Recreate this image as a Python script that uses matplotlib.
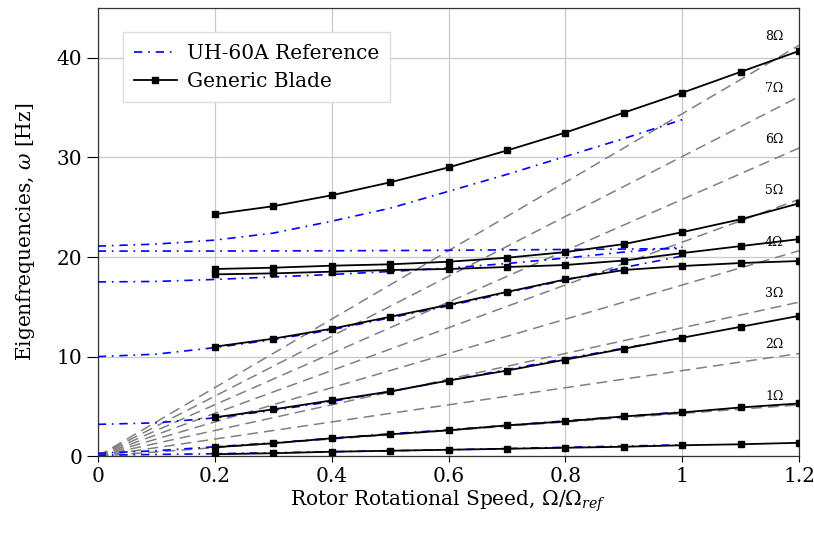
import numpy as np
import matplotlib
matplotlib.use("Agg")
import matplotlib.pyplot as plt

plt.rcParams['font.family'] = ['DejaVu Serif']
plt.rcParams['mathtext.fontset'] = 'dejavuserif'

# reference rotor speed in Hz (n-per-rev lines)
omega_ref = 4.3
n_rev = [1, 2, 3, 4, 5, 6, 7, 8]

# UH-60A reference (blue dash-dot)
x_ref = [0.0, 0.1, 0.2, 0.3, 0.4, 0.5, 0.6, 0.7, 0.8, 0.9, 1.0]
ref_lag1 = [0.1, 0.18, 0.25, 0.35, 0.45, 0.55, 0.65, 0.77, 0.9, 1.02, 1.15]
ref_flap1 = [0.3, 0.55, 0.95, 1.35, 1.8, 2.25, 2.65, 3.1, 3.55, 4.0, 4.45]
ref_flap2 = [3.2, 3.35, 3.85, 4.6, 5.5, 6.5, 7.6, 8.7, 9.8, 10.85, 11.9]
ref_flap3 = [10.0, 10.25, 10.9, 11.7, 12.7, 13.9, 15.1, 16.4, 17.7, 18.95, 20.1]
ref_lag2 = [17.5, 17.55, 17.75, 18.0, 18.25, 18.55, 18.9, 19.35, 19.9, 20.5, 21.0]
ref_tors = [20.6, 20.6, 20.6, 20.62, 20.63, 20.65, 20.68, 20.72, 20.76, 20.8, 20.85]
ref_flap4 = [21.1, 21.3, 21.7, 22.4, 23.6, 24.9, 26.6, 28.3, 30.1, 31.9, 33.8]

# Generic blade (black squares)
x_gen = [0.2, 0.3, 0.4, 0.5, 0.6, 0.7, 0.8, 0.9, 1.0, 1.1, 1.2]
gen_1 = [0.2, 0.3, 0.45, 0.55, 0.65, 0.75, 0.85, 0.95, 1.1, 1.2, 1.35]
gen_2 = [0.9, 1.3, 1.8, 2.2, 2.6, 3.1, 3.5, 4.0, 4.4, 4.9, 5.3]
gen_3 = [3.9, 4.7, 5.6, 6.5, 7.6, 8.6, 9.7, 10.8, 11.9, 13.0, 14.1]
gen_4 = [11.0, 11.8, 12.8, 14.0, 15.2, 16.5, 17.75, 18.7, 19.1, 19.4, 19.6]
gen_5 = [18.26, 18.36, 18.53, 18.7, 18.8, 19.0, 19.2, 19.65, 20.4, 21.1, 21.8]
gen_6 = [18.8, 18.93, 19.13, 19.27, 19.53, 19.93, 20.5, 21.3, 22.5, 23.8, 25.4]
gen_7 = [24.3, 25.1, 26.2, 27.5, 29.0, 30.7, 32.5, 34.5, 36.5, 38.6, 40.7]

fig = plt.figure(figsize=(8.14, 5.38), dpi=100)
ax = fig.add_axes([0.12, 0.152, 0.862, 0.833])

# n-per-rev lines
xs = np.array([0.0, 1.2])
for n in n_rev:
    ax.plot(xs, n * omega_ref * xs, color='gray', linestyle=(0, (7, 4)), lw=1.1, zorder=2)
    ax.text(1.157, n * omega_ref * 1.2 + 0.85, '%d\u03a9' % n, fontsize=9,
            ha='center', va='center', zorder=5)

blue_ls = (0, (5, 3.5, 1, 3.5))
ref_series = [ref_lag1, ref_flap1, ref_flap2, ref_flap3, ref_lag2, ref_tors, ref_flap4]
for i, s in enumerate(ref_series):
    ax.plot(x_ref, s, color='blue', linestyle=blue_ls, lw=1.2, zorder=3,
            label='UH-60A Reference' if i == 0 else None)

gen_series = [gen_1, gen_2, gen_3, gen_4, gen_5, gen_6, gen_7]
for i, s in enumerate(gen_series):
    ax.plot(x_gen, s, color='black', marker='s', markersize=5, lw=1.3, zorder=4,
            label='Generic Blade' if i == 0 else None)

ax.set_xlim(0, 1.2)
ax.set_ylim(0, 45)
ax.set_xticks([0, 0.2, 0.4, 0.6, 0.8, 1.0, 1.2])
ax.set_xticklabels(['0', '0.2', '0.4', '0.6', '0.8', '1', '1.2'])
ax.set_yticks([0, 10, 20, 30, 40])
ax.grid(True, color='#c8c8c8', lw=0.9, zorder=0)
ax.set_axisbelow(True)
ax.tick_params(labelsize=14.5, direction='out', width=0.8)
ax.tick_params(axis='x', length=4, pad=3.5)
ax.tick_params(axis='y', length=8, pad=3)
for sp in ax.spines.values():
    sp.set_linewidth(0.9)
    sp.set_color('#333333')

ax.set_xlabel(r'Rotor Rotational Speed, $\Omega/\Omega_{ref}$', fontsize=14.5, labelpad=2)
ax.set_ylabel(r'Eigenfrequencies, $\omega$ [Hz]', fontsize=14.5, labelpad=14)

leg = ax.legend(loc='upper left', fontsize=14.5, fancybox=False, framealpha=1,
                edgecolor='#dddddd', handlelength=2.1, handletextpad=0.5,
                borderpad=0.55, labelspacing=0.45, bbox_to_anchor=(0.022, 0.968))
leg.get_frame().set_linewidth(1.0)

fig.savefig('out.png', dpi=100)
